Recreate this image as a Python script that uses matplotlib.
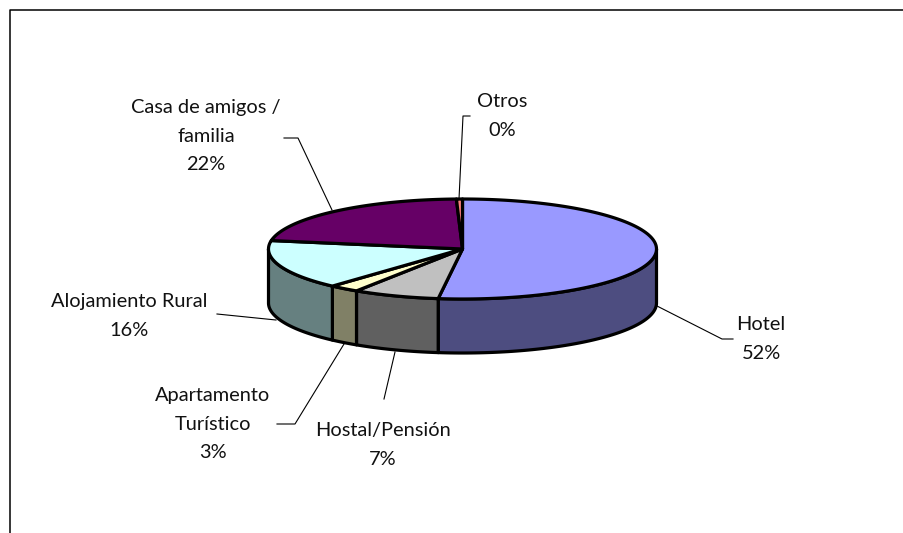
"""Tourist lodging split drawn as an Excel-style 3D pie (top ellipse + extruded rim)."""
import matplotlib

matplotlib.use("Agg")
import matplotlib.pyplot as plt
import numpy as np
from matplotlib.patches import Polygon

W, H = 904, 533

labels = ["Hotel", "Hostal/Pensión", "Apartamento\nTurístico", "Alojamiento Rural",
          "Casa de amigos /\nfamilia", "Otros"]
values = [52.0, 7.2, 2.5, 16.0, 21.8, 0.5]
shown = ["52%", "7%", "3%", "16%", "22%", "0%"]
top_colors = ["#9999ff", "#c0c0c0", "#ffffcc", "#ccffff", "#660066", "#ff8080"]
side_colors = ["#4d4d80", "#606060", "#808066", "#668080", "#330033", "#804040"]

# pixel layout
CX, CY, RX, RY, DEPTH = 462.5, 249.0, 194.0, 50.0, 54.0
# label block centres, then leader paths
label_pos = [(761, 339), (383, 445), (213, 424), (129, 316), (206, 136), (502, 116)]
leaders = [
    [(657, 306), (722, 339), (733, 339)],
    [(395, 352), (384, 399)],
    [(344, 344), (295, 424), (277, 424)],
    [(276, 320), (217, 314)],
    [(332, 210), (298, 138), (284, 138)],
    [(459, 199), (463, 116), (470, 116)],
]

plt.rcParams["font.family"] = ["Lato", "DejaVu Sans"]
fig = plt.figure(figsize=(W / 100, H / 100), dpi=100)
ax = fig.add_axes([0, 0, 1, 1])
ax.set_xlim(0, W)
ax.set_ylim(H, 0)
ax.axis("off")


def rim(t):
    return CX + RX * np.sin(t), CY - RY * np.cos(t)


# frame: only left and top edges fall inside the crop
ax.plot([10, 10, W], [H, 10, 10], color="black", lw=1.1)

edges = np.radians(np.concatenate([[0], np.cumsum(values)]) / sum(values) * 360)

# rim first, only the part facing the viewer
for i in range(len(values)):
    a, b = max(edges[i], np.pi / 2), min(edges[i + 1], 1.5 * np.pi)
    if b <= a:
        continue
    t = np.linspace(a, b, 80)
    x, y = rim(t)
    pts = np.r_[np.c_[x, y], np.c_[x, y + DEPTH][::-1]]
    ax.add_patch(Polygon(pts, closed=True, fc=side_colors[i], ec="black", lw=2.3,
                         joinstyle="round", zorder=2))

for i in range(len(values)):
    t = np.linspace(edges[i], edges[i + 1], 120)
    x, y = rim(t)
    pts = np.r_[[(CX, CY)], np.c_[x, y]]
    ax.add_patch(Polygon(pts, closed=True, fc=top_colors[i], ec="black", lw=2.3,
                         joinstyle="round", zorder=3))

for path in leaders:
    p = np.array(path)
    ax.plot(p[:, 0], p[:, 1], color="black", lw=0.8, zorder=1)

for name, pct, (x, y) in zip(labels, shown, label_pos):
    ax.text(x, y, f"{name}\n{pct}", ha="center", va="center", ma="center",
            fontsize=14.4, color="#111111", linespacing=1.82, zorder=4)

fig.savefig("out.png", dpi=100)
